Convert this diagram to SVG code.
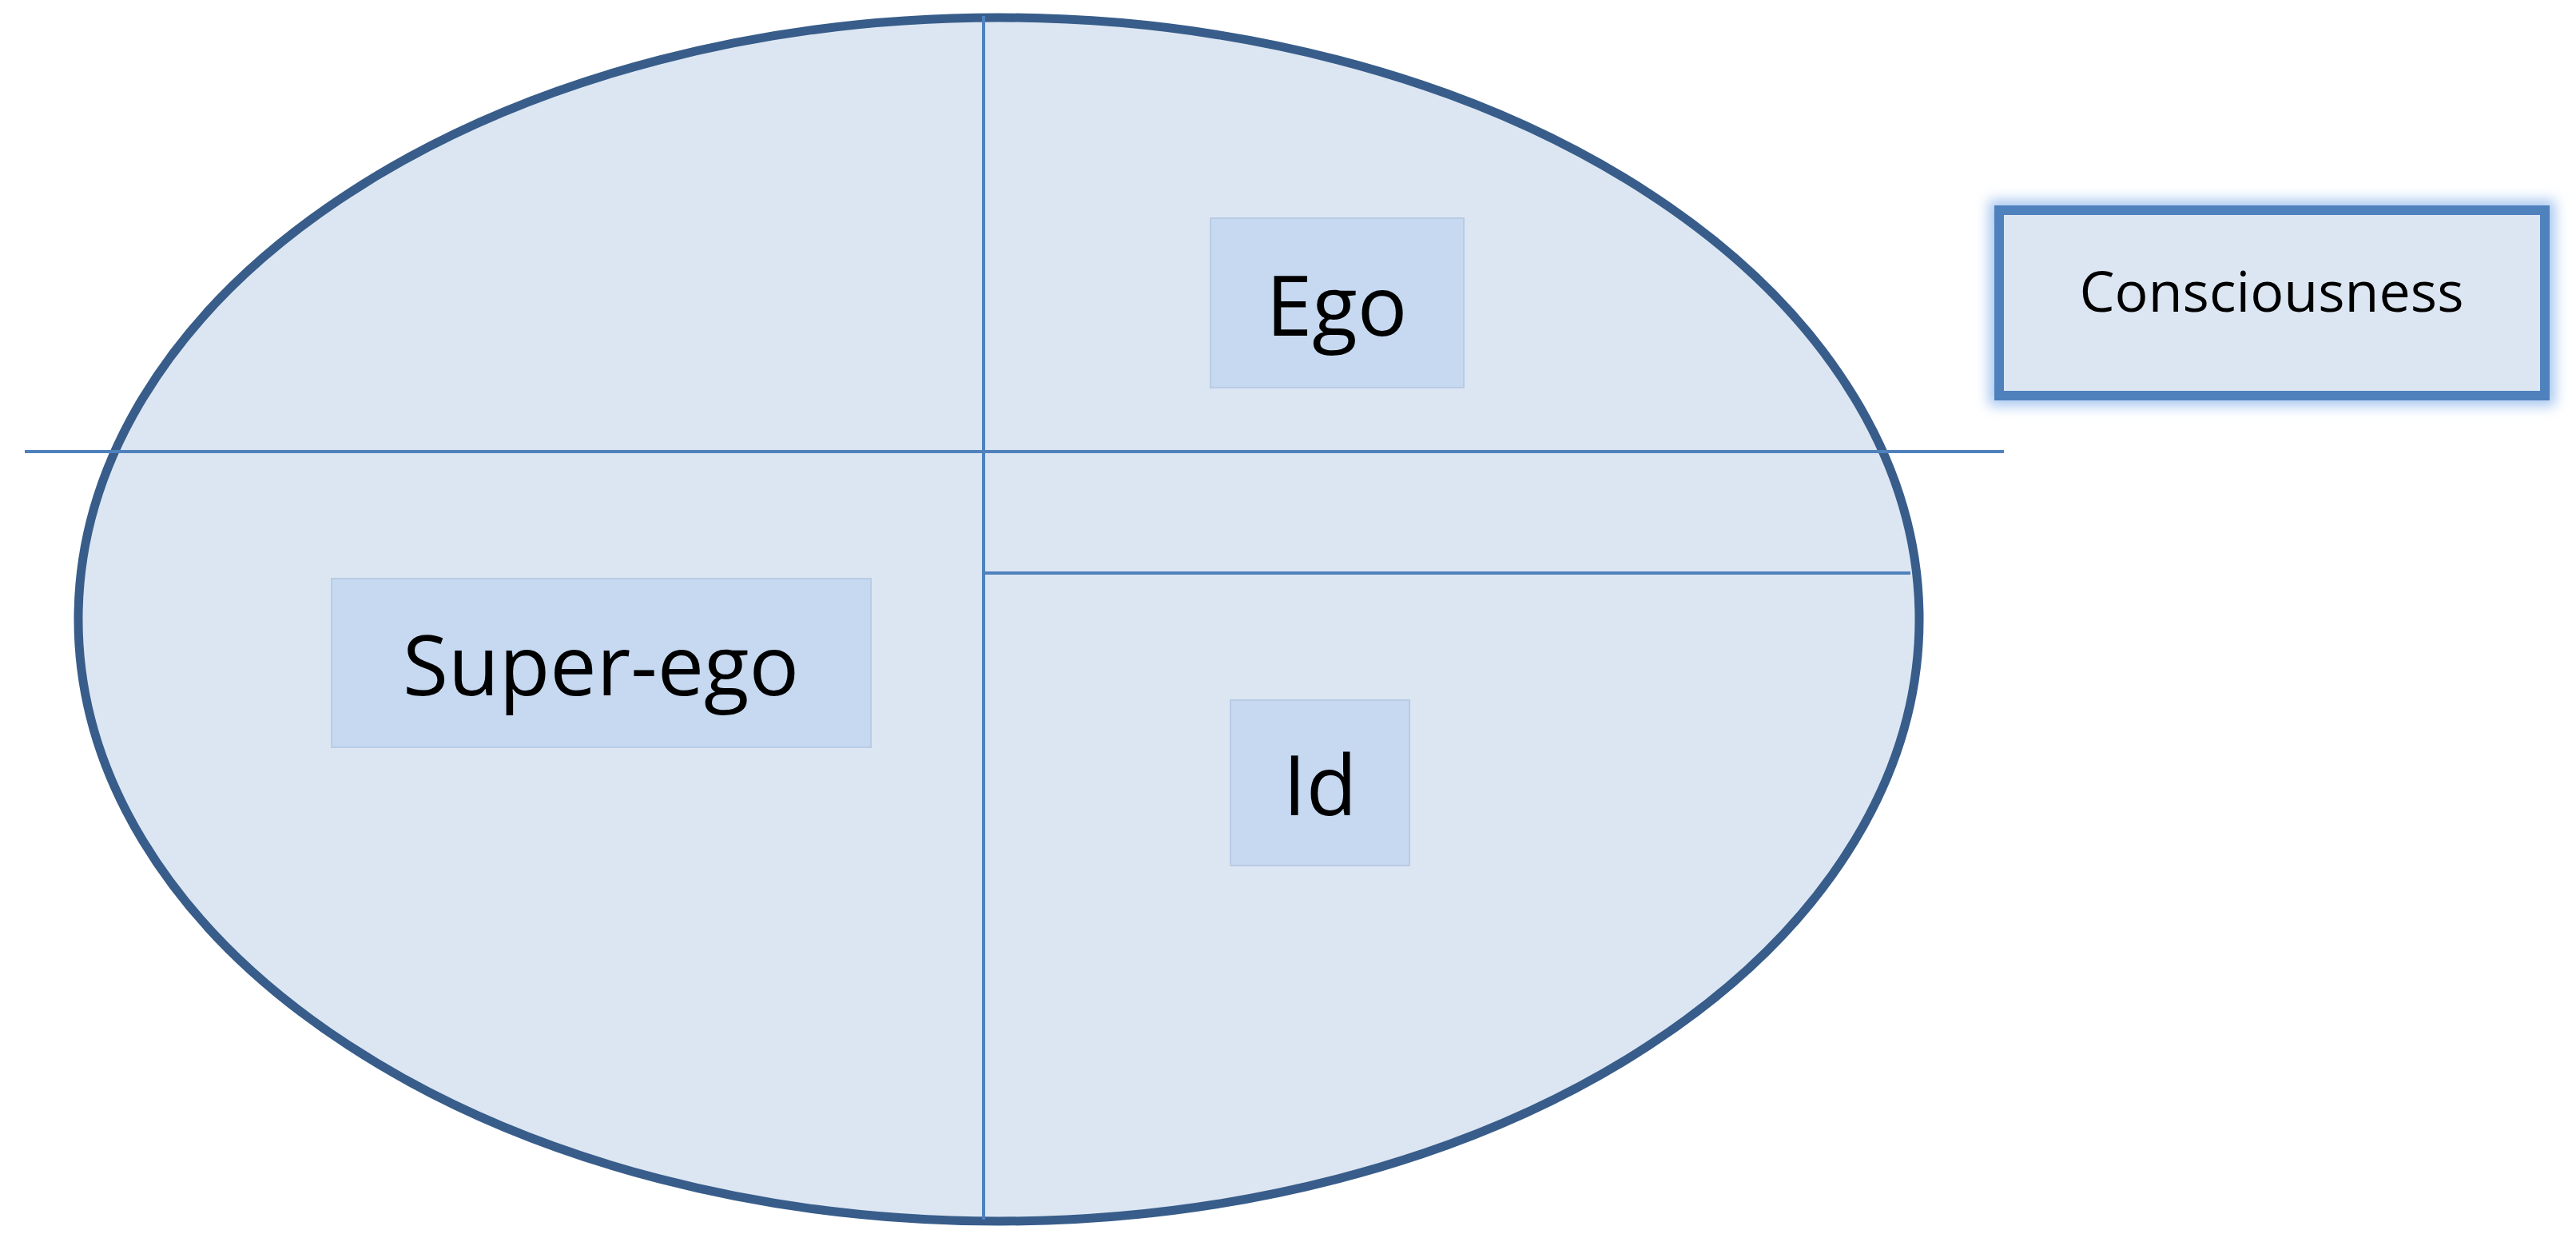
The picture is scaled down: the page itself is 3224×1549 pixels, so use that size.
<svg xmlns="http://www.w3.org/2000/svg" width="3224" height="1549" viewBox="0 0 3224 1549">
<style>
.lbl{fill:#c6d9f0;stroke:#b8cce4;stroke-width:2}
.t{font-family:"Open Sans","Liberation Sans",sans-serif;fill:#000;text-anchor:middle}
.ln{stroke:#4f81bd;stroke-width:4}
</style>
<defs>
<filter id="glow" x="-5%" y="-200%" width="110%" height="500%"><feGaussianBlur stdDeviation="8"/></filter>
<filter id="sh" x="-10%" y="-10%" width="120%" height="120%"><feGaussianBlur stdDeviation="10"/></filter>
</defs>
<rect width="3224" height="1549" fill="#fff"/>
<g id="psyche">
<ellipse cx="1250" cy="775" rx="1152" ry="753" fill="#dce6f2" stroke="#385d8a" stroke-width="11"/>
</g>
<g id="connectors">
<line x1="1242" y1="22" x2="1242" y2="1524" stroke="#b8c4d4" stroke-width="22" filter="url(#sh)"/>
<line x1="1231" y1="20" x2="1231" y2="1526" class="ln"/>
<line x1="1240" y1="700" x2="2420" y2="700" stroke="#c0c8d4" stroke-width="14" filter="url(#sh)"/>
<line x1="1231" y1="717" x2="2391" y2="717" class="ln"/>
<line x1="31" y1="565" x2="2508" y2="565" stroke="#7fd8f5" stroke-width="22" filter="url(#glow)"/>
<line x1="31" y1="565" x2="2508" y2="565" class="ln"/>
</g>
<g id="ego"><rect class="lbl" x="1515" y="273" width="317" height="212"/><text class="t" x="1673" y="420" font-size="104">Ego</text></g>
<g id="superego"><rect class="lbl" x="415" y="724" width="675" height="211"/><text class="t" x="752" y="870" font-size="104">Super-ego</text></g>
<g id="id"><rect class="lbl" x="1540" y="876" width="224" height="207"/><text class="t" x="1652" y="1020" font-size="104">Id</text></g>
<g id="consciousness">
<rect x="2502" y="263" width="683" height="232" fill="none" stroke="#a8c8f0" stroke-width="26" filter="url(#glow)"/>
<rect x="2502" y="263" width="683" height="232" fill="#dce6f2" stroke="#4f81bd" stroke-width="12"/>
<text class="t" x="2843" y="390" font-size="70">Consciousness</text>
</g>
</svg>
